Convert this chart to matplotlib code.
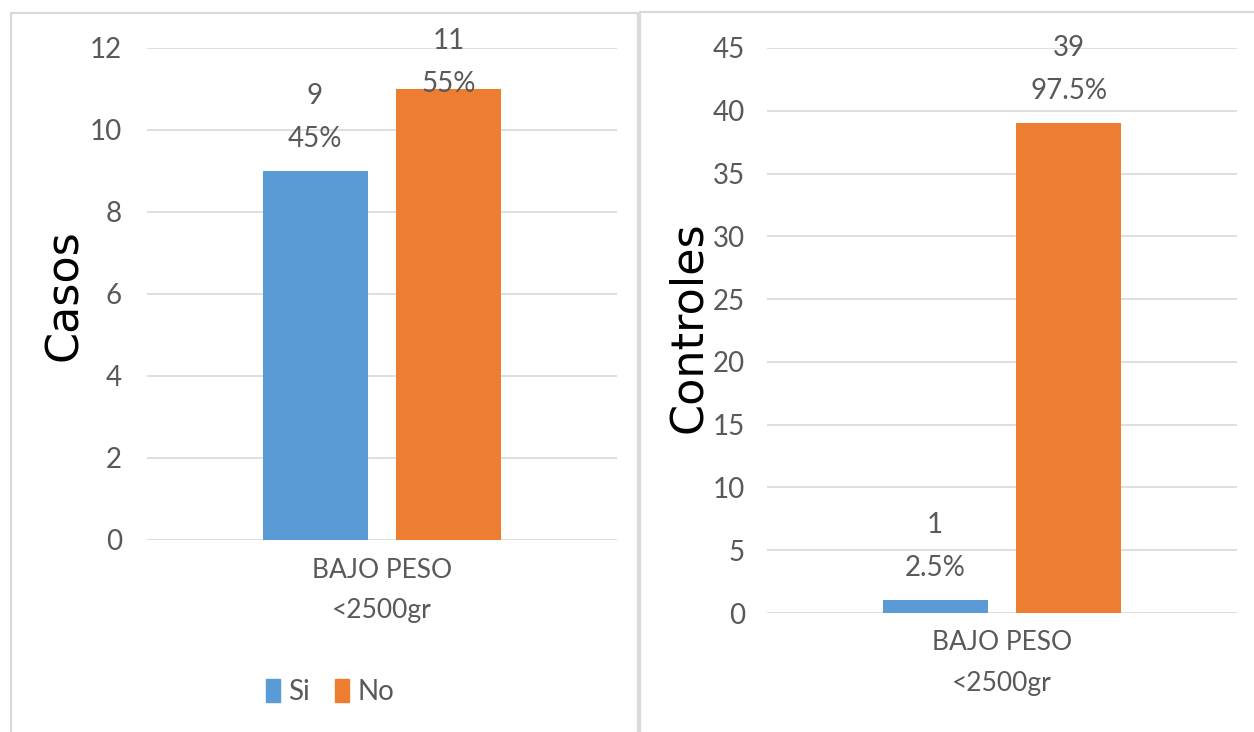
import matplotlib
matplotlib.use("Agg")
import matplotlib.pyplot as plt
from matplotlib.lines import Line2D
from matplotlib.patches import Patch

# =====================================================================
# Data
# =====================================================================

category = ["BAJO PESO", "<2500gr"]
series = ["Si", "No"]
casos = [9, 11]
controles = [1, 39]

casos_ticks = list(range(0, 13, 2))
controles_ticks = list(range(0, 46, 5))

blue = "#5B9BD5"
orange = "#ED7D31"
grid_grey = "#D9D9D9"
text_grey = "#595959"

plt.rcParams["font.family"] = ["Lato", "DejaVu Sans"]

W, H = 1254, 732
fig = plt.figure(figsize=(W / 100, H / 100), dpi=100)


def px_box(x0, y_top, x1, y_bot):
    # pixel box -> figure fraction [left, bottom, width, height]
    return [x0 / W, 1 - y_bot / H, (x1 - x0) / W, (y_bot - y_top) / H]


# panel borders (like the Excel chart areas)
def fig_line(xs, ys):
    fig.add_artist(Line2D([x / W for x in xs], [1 - y / H for y in ys],
                          color=grid_grey, lw=1.6, transform=fig.transFigure))


fig_line([11, 11, 638, 638], [740, 13, 13, 740])
fig_line([640, 640, 1260], [740, 12, 12])


def draw_panel(ax, values, ticks, label_shift, tick_pad):
    total = sum(values)
    width = 0.2234
    gap = 0.0617
    xs = [-(width + gap) / 2, (width + gap) / 2]
    colors = [blue, orange]

    ax.set_axisbelow(True)
    ax.bar(xs, values, width=width, color=colors, zorder=2)

    ax.set_xlim(-0.5, 0.5)
    ax.set_ylim(ticks[0], ticks[-1])
    ax.set_yticks(ticks)
    ax.set_xticks([])
    ax.yaxis.grid(True, color=grid_grey, lw=1.2)
    ax.tick_params(axis="y", length=0, pad=tick_pad, labelsize=20,
                   labelcolor=text_grey)
    for s in ax.spines.values():
        s.set_visible(False)

    # data labels: value on top, percentage under it
    for x, v, shift in zip(xs, values, label_shift):
        pct = f"{100 * v / total:g}%"
        ax.annotate(str(v), xy=(x, v), xytext=(0, 54 + shift),
                    textcoords="offset points", ha="center", va="center",
                    fontsize=20, color=text_grey, annotation_clip=False)
        ax.annotate(pct, xy=(x, v), xytext=(0, 23 + shift),
                    textcoords="offset points", ha="center", va="center",
                    fontsize=20, color=text_grey, annotation_clip=False)

    # category label under the axis
    for line, off in zip(category, [-21.6, -51]):
        ax.annotate(line, xy=(0.5, 0), xycoords="axes fraction",
                    xytext=(0, off), textcoords="offset points",
                    ha="center", va="center", fontsize=19, color=text_grey,
                    annotation_clip=False)


ax1 = fig.add_axes(px_box(147, 48, 617, 540))
draw_panel(ax1, casos, casos_ticks, [0, -19.4], 18)
fig.text(64 / W, 1 - 295 / H, "Casos", rotation=90, ha="center", va="center",
         fontsize=32, color="black", family="DejaVu Sans")

ax2 = fig.add_axes(px_box(767, 48, 1237, 613))
draw_panel(ax2, controles, controles_ticks, [0, 0], 16)
fig.text(689 / W, 1 - 327 / H, "Controles", rotation=90, ha="center",
         va="center", fontsize=32, color="black", family="DejaVu Sans")

# legend under the left chart
handles = [Patch(color=blue, label=series[0]), Patch(color=orange, label=series[1])]
fig.legend(handles=handles, loc="center", bbox_to_anchor=(330 / W, 1 - 692 / H),
           ncol=2, frameon=False, fontsize=20, labelcolor=text_grey,
           handlelength=0.5, handleheight=0.9, handletextpad=0.3,
           columnspacing=0.9)

fig.savefig("out.png", dpi=100)
